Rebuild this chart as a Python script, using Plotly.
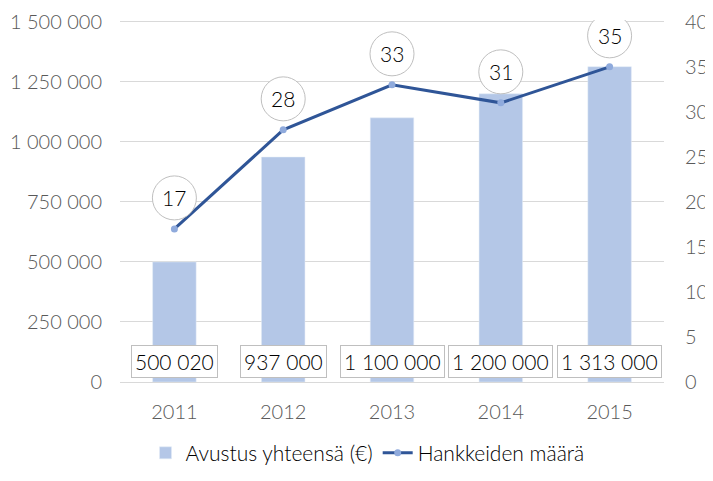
import plotly.graph_objects as go

years = ["2011", "2012", "2013", "2014", "2015"]
grants = [500020, 937000, 1100000, 1200000, 1313000]
grant_labels = ["500 020", "937 000", "1 100 000", "1 200 000", "1 313 000"]
projects = [17, 28, 33, 31, 35]

left_ticks = [0, 250000, 500000, 750000, 1000000, 1250000, 1500000]
left_tick_text = ["0", "250 000", "500 000", "750 000", "1 000 000", "1 250 000", "1 500 000"]
right_ticks = [0, 5, 10, 15, 20, 25, 30, 35, 40]

FONT = "Lato"
TICK_COLOR = "#595959"
FS = 20
PAD = 1.005

fig = go.Figure()
fig.add_trace(go.Bar(
    x=years, y=grants, name="Avustus yhteensä (€)",
    marker=dict(color="#B4C7E7"), width=0.4,
))
fig.add_trace(go.Scatter(
    x=years, y=projects, name="Hankkeiden määrä", yaxis="y2",
    mode="lines+markers",
    line=dict(color="#2F5597", width=3),
    marker=dict(color="#8FAADC", size=7),
))

annotations = []
shapes = []
for i, lab in enumerate(grant_labels):
    annotations.append(dict(
        x=i, y=0, xref="x", yref="y", text=lab, showarrow=False,
        yanchor="bottom", yshift=4,
        font=dict(family=FONT, size=21, color="#000000", weight=300),
        bgcolor="white", bordercolor="#BFBFBF", borderwidth=1, borderpad=3,
    ))
for i, v in enumerate(projects):
    shapes.append(dict(
        type="circle", xref="x", yref="y2",
        xsizemode="pixel", ysizemode="pixel",
        xanchor=i, yanchor=v,
        x0=-22, x1=22, y0=9, y1=53,
        fillcolor="white", line=dict(color="#BFBFBF", width=1),
        layer="above",
    ))
    annotations.append(dict(
        x=i, y=v, xref="x", yref="y2", text=str(v), showarrow=False,
        yshift=31,
        font=dict(family=FONT, size=21, color="#000000", weight=300),
    ))

fig.update_layout(
    width=705, height=473,
    margin=dict(l=112, r=49, t=12, b=99, autoexpand=False),
    paper_bgcolor="white", plot_bgcolor="white",
    font=dict(family=FONT, size=FS, color=TICK_COLOR, weight=300),
    xaxis=dict(
        type="category", range=[-0.5, 4.5], autorange=False, automargin=False,
        showline=True, linecolor="#D9D9D9", linewidth=1,
        tickfont=dict(size=FS, color=TICK_COLOR, weight=300), ticks="",
        ticklabelstandoff=12,
    ),
    yaxis=dict(
        range=[0, 1500000 * PAD], autorange=False, automargin=False,
        tickvals=left_ticks, ticktext=left_tick_text,
        showgrid=True, gridcolor="#D9D9D9", zeroline=False,
        tickfont=dict(size=FS, color=TICK_COLOR, weight=300), ticklabelstandoff=17,
        ticklabeloverflow="allow",
    ),
    yaxis2=dict(
        range=[0, 40 * PAD], autorange=False, automargin=False,
        tickvals=right_ticks, overlaying="y", side="right",
        showgrid=False, zeroline=False,
        tickfont=dict(size=FS, color=TICK_COLOR, weight=300), ticklabelstandoff=20,
        ticklabeloverflow="allow",
    ),
    legend=dict(
        orientation="h", x=0.455, xanchor="center", y=-0.14, yanchor="top",
        font=dict(family=FONT, size=21, color="#000000", weight=300),
        itemwidth=30,
    ),
    annotations=annotations,
    shapes=shapes,
)

fig.write_html("out.html")
